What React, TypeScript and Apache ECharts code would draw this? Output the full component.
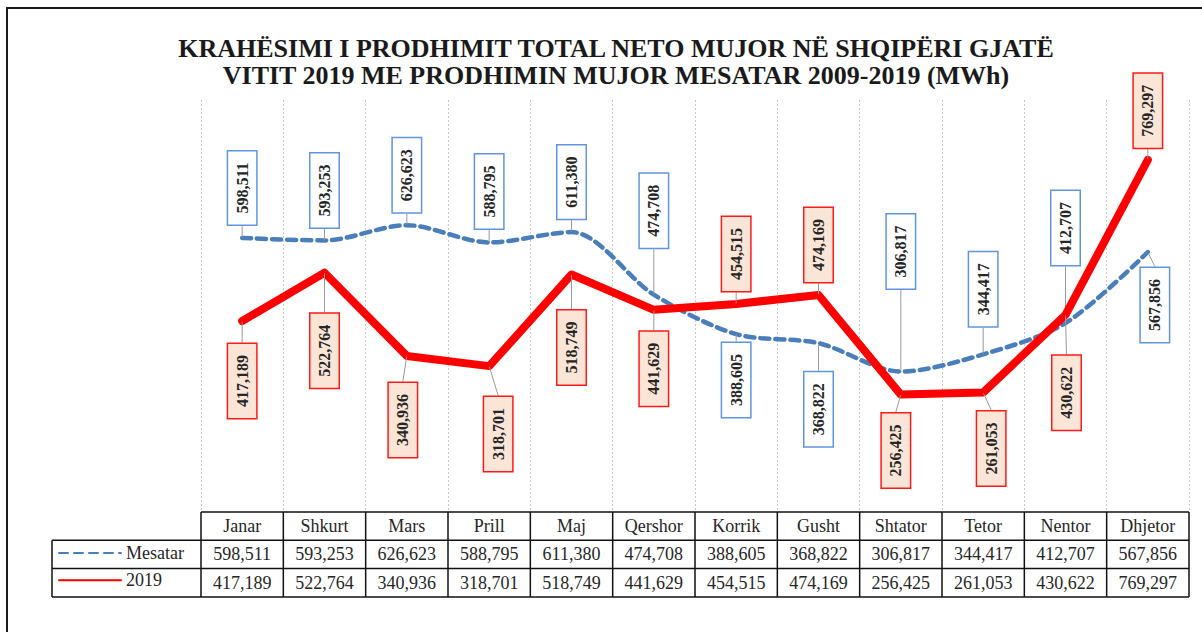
import React, { useEffect, useRef } from "react";
import * as echarts from "echarts";

const months = ["Janar", "Shkurt", "Mars", "Prill", "Maj", "Qershor", "Korrik", "Gusht", "Shtator", "Tetor", "Nentor", "Dhjetor"];
const mesatar = [598511, 593253, 626623, 588795, 611380, 474708, 388605, 368822, 306817, 344417, 412707, 567856];
const y2019 = [417189, 522764, 340936, 318701, 518749, 441629, 454515, 474169, 256425, 261053, 430622, 769297];
const seriesNames = ["Mesatar", "2019"];
const titleLines = [
  "KRAHËSIMI I PRODHIMIT TOTAL NETO MUJOR NË SHQIPËRI GJATË",
  "VITIT 2019 ME PRODHIMIN MUJOR MESATAR 2009-2019 (MWh)",
];

// label callout offsets on screen (pixels, relative to the point) – layout only
const mesatarLabelOffset: [number, number][] = [
  [0, -50], [0, -50], [0, -50], [0, -51], [0, -50], [0, -84],
  [0, 46], [0, 66], [0, -120], [0, -65], [0, -95], [7, 53],
];
const y2019LabelOffset: [number, number][] = [
  [0, 60], [0, 78], [-4, 64], [9, 68], [0, 73], [0, 59],
  [0, -50], [0, -50], [-5, 56], [8, 56], [1, 78], [0, -49],
];

const W = 1202;
const H = 632;
const GRID_LEFT = 201;
const GRID_RIGHT = 13;
const GRID_TOP = 100;
const GRID_BOTTOM = 120;
const ROW_H = 28.3;
const LEGEND_COL_LEFT = 52;
const LEGEND_ITEM_H = 19;
const LABEL_ROTATE = 90;

const fmt = (v: number) => v.toLocaleString("en-US");
const SERIF = "'Liberation Serif', 'Times New Roman', serif";

export default function App() {
  const ref = useRef<HTMLDivElement>(null);
  useEffect(() => {
    if (!ref.current) return;
    const chart = echarts.init(ref.current, undefined, { renderer: "svg" });

    const tableTop = H - GRID_BOTTOM;
    const tableLeft = GRID_LEFT;
    const tableRight = W - GRID_RIGHT;
    const colW = (tableRight - tableLeft) / months.length;
    const lineStyle = { stroke: "#111", lineWidth: 1.5 };
    const tableGraphics: any[] = [];
    tableGraphics.push({ type: "line", shape: { x1: tableLeft, y1: tableTop, x2: tableRight, y2: tableTop }, style: lineStyle });
    for (let r = 1; r <= 3; r++) {
      const y = tableTop + r * ROW_H;
      tableGraphics.push({ type: "line", shape: { x1: LEGEND_COL_LEFT, y1: y, x2: tableRight, y2: y }, style: lineStyle });
    }
    for (let c = 0; c <= months.length; c++) {
      const x = tableLeft + c * colW;
      tableGraphics.push({ type: "line", shape: { x1: x, y1: tableTop, x2: x, y2: tableTop + 3 * ROW_H }, style: lineStyle });
    }
    tableGraphics.push({ type: "line", shape: { x1: LEGEND_COL_LEFT, y1: tableTop + ROW_H, x2: LEGEND_COL_LEFT, y2: tableTop + 3 * ROW_H }, style: lineStyle });

    const labelBase = {
      show: true,
      position: "inside",
      rotate: LABEL_ROTATE,
      fontFamily: SERIF,
      fontWeight: "bold",
      fontSize: 16,
      color: "#262626",
      padding: [6, 11],
      borderWidth: 1.5,
      formatter: (p: any) => fmt(p.value),
    };

    const tableAxisLabel = {
      interval: 0,
      margin: 14,
      verticalAlign: "middle",
      fontFamily: SERIF,
      fontSize: 18,
      color: "#262626",
    };

    const offsets = [mesatarLabelOffset, y2019LabelOffset];

    chart.setOption({
      animation: false,
      backgroundColor: "#ffffff",
      title: {
        text: titleLines.join("\n"),
        left: 611,
        textAlign: "center",
        top: 30,
        textStyle: {
          fontFamily: SERIF,
          fontWeight: "bold",
          fontSize: 26,
          lineHeight: 27,
          color: "#1a1a1a",
        },
      },
      legend: {
        orient: "vertical",
        left: 58,
        top: tableTop + ROW_H + (ROW_H - LEGEND_ITEM_H) / 2 - 1,
        itemWidth: 62,
        itemHeight: 14,
        itemGap: ROW_H - LEGEND_ITEM_H,
        padding: 0,
        data: seriesNames,
        itemStyle: { opacity: 0 },
        textStyle: { fontFamily: SERIF, fontSize: 18, color: "#262626" },
      },
      grid: { left: GRID_LEFT, right: GRID_RIGHT, top: GRID_TOP, bottom: GRID_BOTTOM },
      xAxis: [
        {
          type: "category",
          data: months,
          boundaryGap: true,
          axisLine: { show: false },
          axisTick: { show: false, interval: 0 },
          axisLabel: tableAxisLabel,
          splitLine: { show: true, interval: 0, lineStyle: { color: "#c8c8c8", type: [2, 2], width: 1 } },
        },
        {
          type: "category",
          data: mesatar.map(fmt),
          position: "bottom",
          offset: ROW_H,
          axisLine: { show: false },
          axisTick: { show: false },
          axisLabel: tableAxisLabel,
          splitLine: { show: false },
        },
        {
          type: "category",
          data: y2019.map(fmt),
          position: "bottom",
          offset: ROW_H * 2,
          axisLine: { show: false },
          axisTick: { show: false },
          axisLabel: tableAxisLabel,
          splitLine: { show: false },
        },
      ],
      yAxis: {
        type: "value",
        min: 0,
        max: 900000,
        show: false,
        splitLine: { show: false },
      },
      // dx/dy are applied in the label's rotated frame (90°), so convert screen offsets
      labelLayout: (params: any) => {
        const o = offsets[params.seriesIndex][params.dataIndex];
        return { dx: -o[1], dy: o[0] };
      },
      series: [
        {
          name: seriesNames[0],
          type: "line",
          data: mesatar,
          smooth: 0.3,
          symbol: "circle",
          symbolSize: 1,
          z: 2,
          itemStyle: { color: "#4a7ebb" },
          lineStyle: { color: "#4a7ebb", width: 4.5, type: [9, 6], cap: "round" },
          label: { ...labelBase, backgroundColor: "#ffffff", borderColor: "#5f95dc" },
          labelLine: { show: true, lineStyle: { color: "#9a9a9a", width: 1 } },
        },
        {
          name: seriesNames[1],
          type: "line",
          data: y2019,
          symbol: "circle",
          symbolSize: 1,
          z: 3,
          itemStyle: { color: "#ff0000" },
          lineStyle: { color: "#ff0000", width: 8, cap: "round", join: "round" },
          label: { ...labelBase, backgroundColor: "#fbe5d6", borderColor: "#ff1a1a" },
          labelLine: { show: true, lineStyle: { color: "#9a9a9a", width: 1 } },
        },
      ],
      graphic: [
        {
          type: "rect",
          shape: { x: 7, y: 8, width: 1300, height: 700 },
          style: { fill: "none", stroke: "#1a1a1a", lineWidth: 2 },
          silent: true,
        },
        ...tableGraphics,
      ],
    });
    return () => chart.dispose();
  }, []);
  return (
    <div
      ref={ref}
      style={{ position: "fixed", left: 0, top: 0, width: W, height: H, background: "#fff" }}
    />
  );
}
